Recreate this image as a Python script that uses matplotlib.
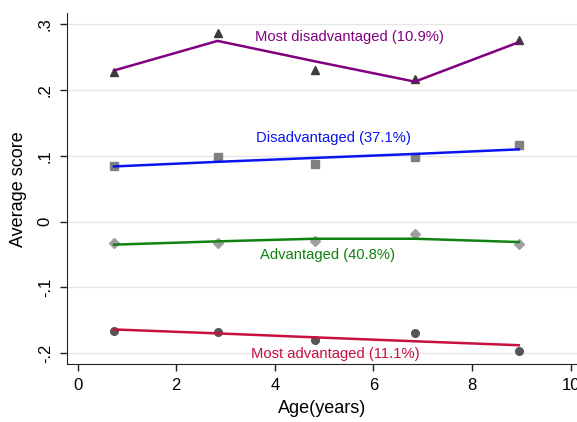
import numpy as np
import matplotlib
matplotlib.use('Agg')
import matplotlib.pyplot as plt

plt.rcParams['font.family'] = ['Liberation Sans', 'DejaVu Sans']

age = [0.74, 2.84, 4.81, 6.84, 8.95]

# observed means (markers) and fitted values (lines)
most_dis_obs = [0.227, 0.287, 0.231, 0.217, 0.276]
most_dis_fit = [0.230, 0.275, 0.244, 0.213, 0.273]
dis_obs = [0.084, 0.099, 0.088, 0.099, 0.116]
dis_fit = [0.084, 0.091, 0.097, 0.103, 0.110]
adv_obs = [-0.033, -0.032, -0.029, -0.019, -0.034]
adv_fit = [-0.035, -0.030, -0.026, -0.026, -0.031]
most_adv_obs = [-0.167, -0.168, -0.180, -0.169, -0.197]
most_adv_fit = [-0.164, -0.170, -0.176, -0.182, -0.188]

labels = ['Most disadvantaged (10.9%)', 'Disadvantaged (37.1%)',
          'Advantaged (40.8%)', 'Most advantaged (11.1%)']
label_x = [5.52, 5.20, 5.07, 5.23]
label_y = [0.2816, 0.127, -0.0507, -0.2014]

line_colors = ['#800080', '#0a14f0', '#0f820f', '#c8103e']
marker_colors = ['#3c3c3c', '#808080', '#a0a0a0', '#555555']
markers = ['^', 's', 'D', 'o']
msizes = [5.5, 5.5, 5.5, 5.5]

xticks = [0, 2, 4, 6, 8, 10]
yticks = [-0.2, -0.1, 0, 0.1, 0.2, 0.3]
ytick_labels = ['-.2', '-.1', '0', '.1', '.2', '.3']

fig = plt.figure(figsize=(5.77, 4.22), dpi=100)
ax = fig.add_axes([0.1156, 0.1374, 0.8844, 0.8311])

obs = [most_dis_obs, dis_obs, adv_obs, most_adv_obs]
fit = [most_dis_fit, dis_fit, adv_fit, most_adv_fit]
for i in range(4):
    ax.plot(age, obs[i], linestyle='none', marker=markers[i], ms=msizes[i],
            color=marker_colors[i], zorder=3)
    ax.plot(age, fit[i], '-', color=line_colors[i], lw=1.8, zorder=4)
    ax.text(label_x[i], label_y[i], labels[i], color=line_colors[i],
            fontsize=10.6, ha='center', va='center', zorder=5)

ax.set_xlim(-0.22, 10.13)
ax.set_ylim(-0.2166, 0.317)
ax.set_xticks(xticks)
ax.set_yticks(yticks)
ax.set_yticklabels(ytick_labels, rotation=90, va='center')
ax.tick_params(labelsize=12, length=5, width=1, color='#222222', pad=5)
ax.grid(axis='y', color='#e6e6e6', lw=1)
ax.set_axisbelow(True)
for s in ['top', 'right']:
    ax.spines[s].set_visible(False)
for s in ['left', 'bottom']:
    ax.spines[s].set_color('#222222')

ax.set_xlabel('Age(years)', fontsize=13, labelpad=5)
ax.set_ylabel('Average score', fontsize=13, labelpad=8)

fig.savefig('out.png', dpi=100)
